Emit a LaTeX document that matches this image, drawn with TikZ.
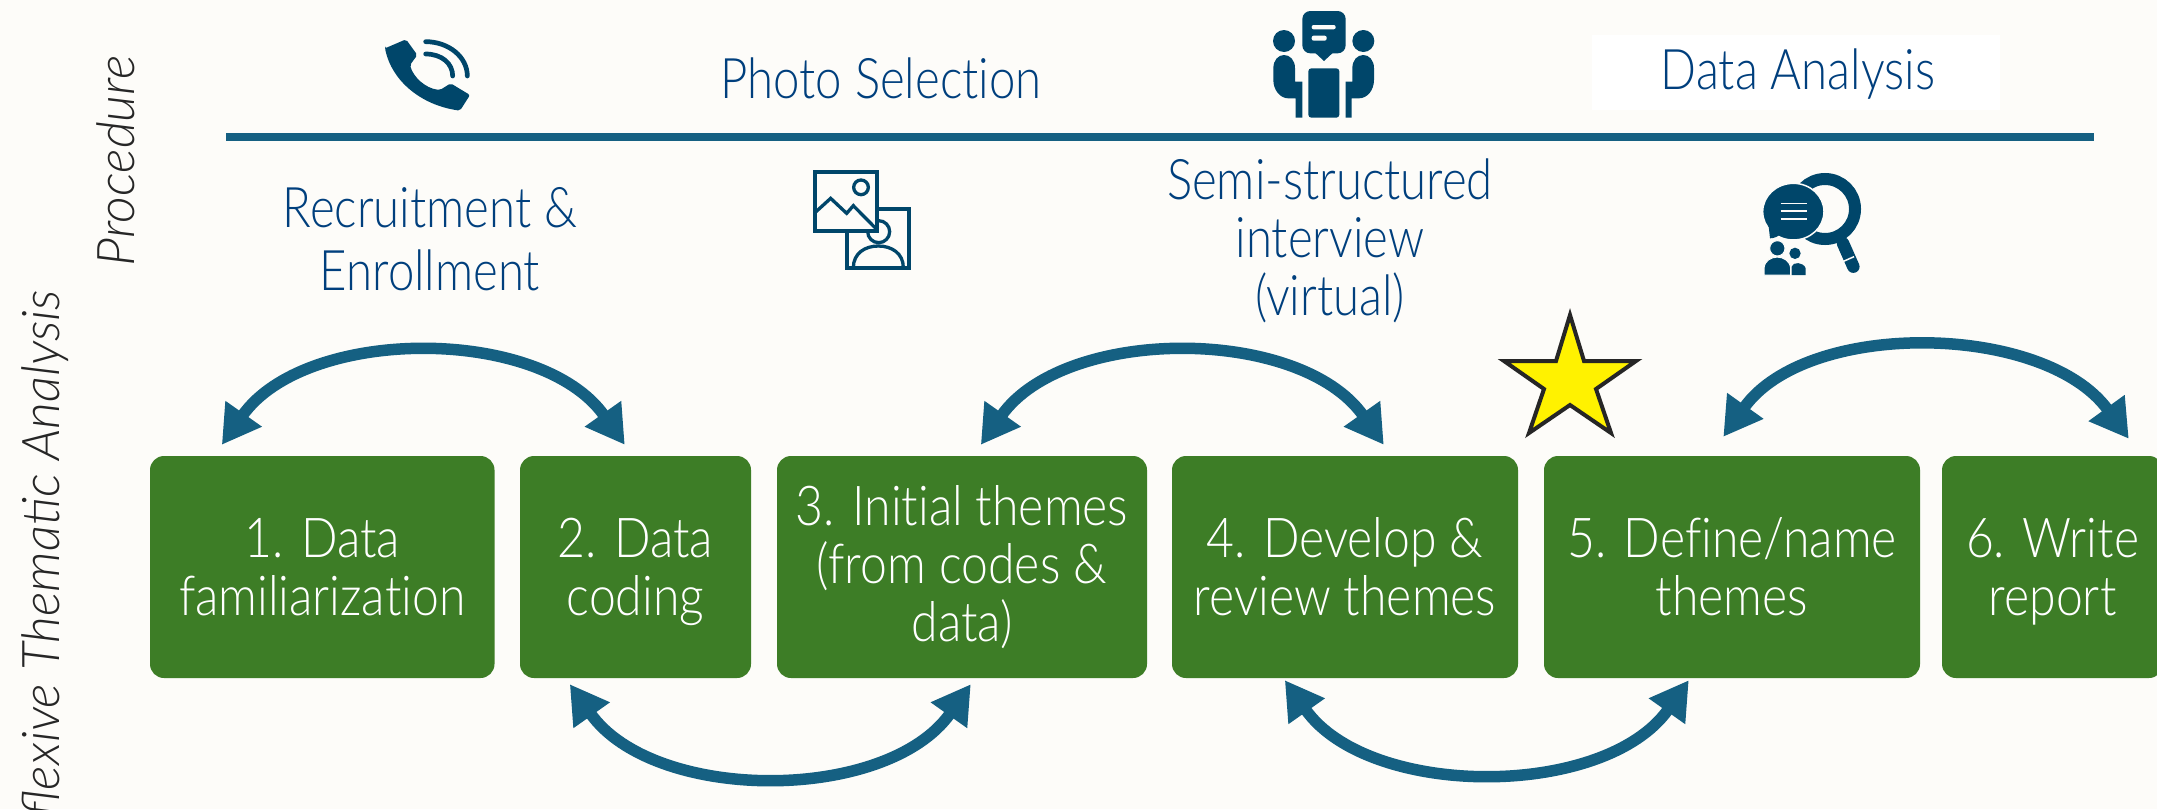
\documentclass[tikz,border=0pt]{standalone}
\usepackage{fontspec}
\usetikzlibrary{arrows.meta}
\setmainfont{Lato}
\newfontfamily\lt{Lato Light}[FakeStretch=0.875,Ligatures=NoCommon]
\newfontfamily\ltp{Lato Light}[FakeStretch=0.845,Ligatures=NoCommon]
\newfontfamily\lti{Lato Light Italic}
\definecolor{bg}{HTML}{FDFCF9}
\definecolor{txt}{HTML}{003F7D}
\definecolor{icon}{HTML}{00466A}
\definecolor{arcblue}{HTML}{156082}
\definecolor{boxgreen}{HTML}{3D7D26}
\tikzset{
  stepbox/.style={fill=boxgreen,rounded corners=14pt,minimum height=222pt,inner sep=0pt,text=white,align=center,font=\lt\fontsize{55}{58}\selectfont},
  proc/.style={text=txt,align=center,inner sep=0pt,font=\ltp\fontsize{56}{63}\selectfont},
  side/.style={text=black!85,inner sep=0pt,rotate=90,anchor=base east,font=\lti\fontsize{52}{60}\selectfont},
  arc/.style={draw=arcblue,line width=11.5pt,{Triangle[length=38pt,width=42pt]}-{Triangle[length=38pt,width=42pt]}},
  iconscope/.style={x=0.33333pt,y=-0.33333pt,icon}
}
\begin{document}
\begin{tikzpicture}[x=1pt,y=-1pt]
\path[use as bounding box] (0,0) rectangle (2157,809);
\fill[bg] (0,0) rectangle (2157,809);
\clip (0,0) rectangle (2157,809);

% side labels
\node[side] (lblproc) at (134,55) {Procedure};
\node[side] (lblrta) at (59,290) {Reflexive\ Thematic\ Analysis};

% header
\fill[white] (1592,35) rectangle (2000,110);
\draw[arcblue,line width=8pt] (226,136.5) -- (2094,136.5);
\node[proc,anchor=base] (photo) at (881,98) {Photo Selection};
\node[proc,anchor=base] (analysis) at (1798,89) {Data Analysis};
\node[proc] (recruit) at (430,239) {Recruitment \&\\Enrollment};
\node[proc,font=\ltp\fontsize{56}{58}\selectfont] (semi) at (1330,241) {Semi-structured\\interview\\(virtual)};

% boxes
\node[stepbox,minimum width=344.5pt] (b1) at (322.25,567) {1. Data\\familiarization};
\node[stepbox,minimum width=231pt] (b2) at (635.5,567) {2. Data\\\smash{coding}};
\node[stepbox,minimum width=370pt] (b3) at (962,567) {3. Initial themes\\(from codes \&\\data)};
\node[stepbox,minimum width=346pt] (b4) at (1345,567) {4. Develop \&\\review themes};
\node[stepbox,minimum width=376pt] (b5) at (1732,567) {5. Define/name\\themes};
\node[stepbox,minimum width=221pt] (b6) at (2052.5,567) {6. Write\\\smash{report}};

% arc ends
\coordinate (t1l) at ([shift={(72,-11)}]b1.north west);
\coordinate (t1r) at ([shift={(105,-11)}]b2.north west);
\coordinate (t2l) at ([shift={(204,-11)}]b3.north west);
\coordinate (t2r) at ([shift={(212,-11)}]b4.north west);
\coordinate (t3l) at ([shift={(179.5,-19)}]b5.north west);
\coordinate (t3r) at ([shift={(187,-17)}]b6.north west);
\coordinate (u1l) at ([shift={(50,6)}]b2.south west);
\coordinate (u1r) at ([shift={(194,6)}]b3.south west);
\coordinate (u2l) at ([shift={(113,2)}]b4.south west);
\coordinate (u2r) at ([shift={(145,2)}]b5.south west);

\draw[arc] (t1l) .. controls +(84,-119) and +(-84,-119) .. (t1r);
\draw[arc] (t2l) .. controls +(84,-119) and +(-84,-119) .. (t2r);
\draw[arc] (t3l) .. controls +(84,-118) and +(-84,-116) .. (t3r);
\draw[arc] (u1l) .. controls +(84,119) and +(-84,119) .. (u1r);
\draw[arc] (u2l) .. controls +(84,119) and +(-84,119) .. (u2r);

% star
\draw[draw=black!85,fill=yellow,line width=4pt,miter limit=10,line join=miter]
  (1570,315) -- (1584,361) -- (1636,361) -- (1596,389) -- (1611,433) -- (1570,405)
  -- (1529,433) -- (1544,389) -- (1504,361) -- (1556,361) -- cycle;

% phone icon
\begin{scope}[shift={(360,20)},iconscope]
\fill[rounded corners=2pt] (75,85) -- (138,58) -- (172,105) -- (150,135)
  .. controls (160,170) and (195,205) .. (240,210) -- (272,190) -- (330,225) -- (300,272)
  .. controls (180,255) and (95,180) .. (75,85) -- cycle;
\draw[line width=4.7pt,line cap=round] (197,65) .. controls (265,65) and (322,110) .. (322,168);
\draw[line width=4.7pt,line cap=round] (197,102) .. controls (245,102) and (278,130) .. (278,168);
\end{scope}

% photo icon
\begin{scope}[shift={(790,160)},iconscope]
\draw[line width=4.2pt] (262,147) -- (358,147) -- (358,323) -- (172,323) -- (172,214);
\draw[line width=3.3pt] (266,215) circle[radius=33];
\draw[line width=3.3pt] (190,323) .. controls (190,280) and (225,258) .. (265,258) .. controls (305,258) and (340,280) .. (340,323);
\draw[line width=4.2pt,fill=bg] (76,37) rectangle (262,214);
\draw[line width=3.3pt] (78,155) -- (122,115) -- (170,160) -- (190,137) -- (262,210);
\draw[line width=3.3pt] (213,82) circle[radius=22];
\end{scope}

% interview icon
\begin{scope}[shift={(1250,0)},iconscope]
\fill[rounded corners=8pt] (157,33) rectangle (287,160);
\fill (195,158) -- (222,183) -- (249,158) -- cycle;
\fill[bg,rounded corners=2pt] (185,75) rectangle (257,88);
\fill[bg,rounded corners=2pt] (185,107) rectangle (230,122);
\fill (102,123) circle[radius=33];
\fill (340,123) circle[radius=33];
\fill[rounded corners=3pt] (175,353) -- (175,205) -- (268,205) -- (268,353) -- cycle;
\fill (70,205) .. controls (70,180) and (85,165) .. (102,165) .. controls (120,165) and (135,180) .. (135,205)
  -- (135,245) -- (157,245) -- (157,353) -- (137,353) -- (137,295) -- (115,295) .. controls (90,295) and (70,270) .. (70,240) -- cycle;
\fill (372,205) .. controls (372,180) and (357,165) .. (340,165) .. controls (322,165) and (307,180) .. (307,205)
  -- (307,245) -- (287,245) -- (287,353) -- (305,353) -- (305,295) -- (327,295) .. controls (352,295) and (372,270) .. (372,240) -- cycle;
\end{scope}

% analysis icon
\begin{scope}[shift={(1750,160)},iconscope]
\draw[line width=12pt] (225,147) circle[radius=90];
\draw[line width=12.5pt,line cap=round] (279,250) -- (310,320);
\draw[bg,line width=1.5pt] (278,305) -- (312,290);
\fill[draw=bg,line width=1.5pt] (130,155) ellipse[x radius=92,y radius=85];
\fill (55,190) -- (60,235) .. controls (75,235) and (85,228) .. (95,220) -- cycle;
\draw[bg,line width=1.6pt] (92,130) -- (172,130);
\draw[bg,line width=1.6pt] (92,153) -- (172,153);
\draw[bg,line width=1.6pt] (92,177) -- (172,177);
\fill[draw=bg,line width=1pt] (82,265) circle[radius=23];
\fill (135,280) circle[radius=17];
\fill (125,345) -- (125,320) .. controls (128,305) and (160,305) .. (167,325) -- (167,345) -- cycle;
\fill[draw=bg,line width=1pt] (42,345) -- (42,325) .. controls (45,280) and (118,280) .. (122,325) -- (122,345) -- cycle;
\end{scope}
\end{tikzpicture}
\end{document}
